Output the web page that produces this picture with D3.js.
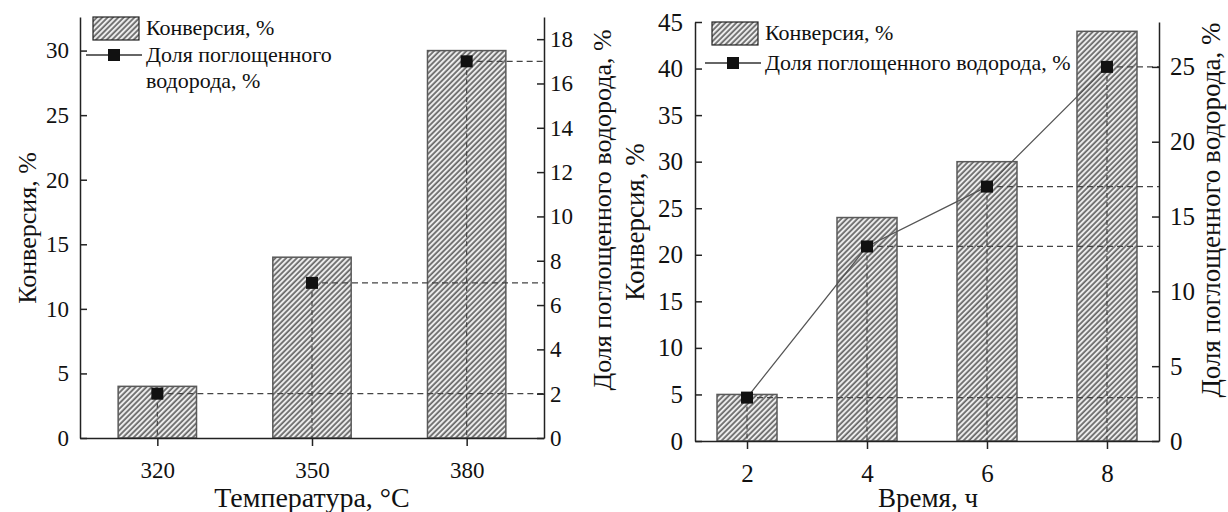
<!DOCTYPE html>
<html>
<head>
<meta charset="utf-8">
<script src="https://cdn.jsdelivr.net/npm/d3@7"></script>
<style>
  body { margin: 0; background: #fff; }
  svg text { font-family: "Liberation Serif", "Tinos", "Times New Roman", "DejaVu Serif", serif !important; }
</style>
</head>
<body>
<svg id="chart" width="1228" height="512"></svg>
<script>
// left panel: temperature
const tempLabels = [320, 350, 380];
const tempConversion = [4, 14, 30];
const tempHydrogen = [2, 7, 17];
const tempConvTicks = [0, 5, 10, 15, 20, 25, 30];
const tempHydTicks = [0, 2, 4, 6, 8, 10, 12, 14, 16, 18];

// right panel: time
const timeLabels = [2, 4, 6, 8];
const timeConversion = [5, 24, 30, 44];
const timeHydrogen = [2.9, 13, 17, 25];
const timeConvTicks = [0, 5, 10, 15, 20, 25, 30, 35, 40, 45];
const timeHydTicks = [0, 5, 10, 15, 20, 25];

const convTitle = "Конверсия, %";
const hydTitle = "Доля поглощенного водорода, %";

let svg = d3.select("#chart");

// hatch pattern for the bars
let defs = svg.append("defs");
let hatch = defs.append("pattern")
  .attr("id", "hatch")
  .attr("patternUnits", "userSpaceOnUse")
  .attr("width", 3.8)
  .attr("height", 3.8)
  .attr("patternTransform", "rotate(45)");
hatch.append("rect")
  .attr("width", 3.8)
  .attr("height", 3.8)
  .attr("fill", "#ececec");
hatch.append("line")
  .attr("x1", 1).attr("y1", 0)
  .attr("x2", 1).attr("y2", 3.8)
  .attr("stroke", "#2e2e2e")
  .attr("stroke-width", 1.2);

drawPanel(svg, {
  labels: tempLabels, conv: tempConversion, hyd: tempHydrogen,
  convTicks: tempConvTicks, hydTicks: tempHydTicks,
  xDomain: [305, 395], xRange: [80, 544], halfWidth: 7.6,
  convMax: 32.6, hydMax: 19, yRange: [438, 17],
  tickFont: 23, titleFont: 26, xTitleFont: 28, legendFont: 22,
  connect: false,
  xTitle: "Температура, °C", xTitleX: 312,
  leftTitleX: 36, leftTitleY: 228, rightTitleX: 611, rightTitleY: 210,
  tickPadL: 11, tickPadR: 6, tickPadX: 16,
  legendX: 93, legendY: 17, legendLines: ["Доля поглощенного", "водорода, %"], legendStep: 27
});

drawPanel(svg, {
  labels: timeLabels, conv: timeConversion, hyd: timeHydrogen,
  convTicks: timeConvTicks, hydTicks: timeHydTicks,
  xDomain: [1.133, 8.867], xRange: [695, 1159], halfWidth: 0.5,
  convMax: 45, hydMax: 28, yRange: [441, 22],
  tickFont: 25, titleFont: 27, xTitleFont: 27, legendFont: 22,
  connect: true,
  xTitle: "Время, ч", xTitleX: 928,
  leftTitleX: 644, leftTitleY: 222, rightTitleX: 1220, rightTitleY: 210,
  tickPadL: 12, tickPadR: 11, tickPadX: 15,
  legendX: 712, legendY: 22, legendLines: [hydTitle], legendStep: 30
});

function drawPanel(svg, p) {
  let g = svg.append("g");

  let x = d3.scaleLinear().domain(p.xDomain).range(p.xRange);
  let yConv = d3.scaleLinear().domain([0, p.convMax]).range(p.yRange);
  let yHyd = d3.scaleLinear().domain([0, p.hydMax]).range(p.yRange);

  // bars
  g.selectAll(".bar")
    .data(p.labels)
    .enter()
    .append("rect")
    .attr("x", (d) => x(d - p.halfWidth))
    .attr("width", (d) => x(d + p.halfWidth) - x(d - p.halfWidth))
    .attr("y", (d, i) => yConv(p.conv[i]))
    .attr("height", (d, i) => yConv(0) - yConv(p.conv[i]))
    .style("fill", "url(#hatch)")
    .style("stroke", "#5a5a5a")
    .style("stroke-width", 1.5);

  // dashed guides: down to x axis and across to right axis
  for (let i = 0; i < p.labels.length; i++) {
    let cx = x(p.labels[i]);
    let cy = yHyd(p.hyd[i]);
    g.append("line")
      .attr("x1", cx).attr("y1", cy)
      .attr("x2", cx).attr("y2", yHyd(0))
      .style("stroke", "#444")
      .style("stroke-width", 1.2)
      .style("stroke-dasharray", "5,4");
    g.append("line")
      .attr("x1", cx).attr("y1", cy)
      .attr("x2", p.xRange[1]).attr("y2", cy)
      .style("stroke", "#444")
      .style("stroke-width", 1.3)
      .style("stroke-dasharray", "6,4");
  }

  // connecting line (time panel only)
  if (p.connect) {
    let line = d3.line()
      .x((d) => x(d))
      .y((d, i) => yHyd(p.hyd[i]));
    g.append("path")
      .attr("d", line(p.labels))
      .style("fill", "none")
      .style("stroke", "#555")
      .style("stroke-width", 1.3);
  }

  // square markers
  g.selectAll(".pt")
    .data(p.labels)
    .enter()
    .append("rect")
    .attr("x", (d) => x(d) - 6)
    .attr("y", (d, i) => yHyd(p.hyd[i]) - 6)
    .attr("width", 12)
    .attr("height", 12)
    .style("fill", "#111");

  // axes
  let leftAxis = g.append("g")
    .attr("transform", "translate(" + p.xRange[0] + ",0)")
    .call(d3.axisLeft(yConv).tickValues(p.convTicks).tickSizeInner(-7).tickSizeOuter(0).tickPadding(p.tickPadL));
  let rightAxis = g.append("g")
    .attr("transform", "translate(" + p.xRange[1] + ",0)")
    .call(d3.axisRight(yHyd).tickValues(p.hydTicks).tickSizeInner(-7).tickSizeOuter(0).tickPadding(p.tickPadR));
  let bottomAxis = g.append("g")
    .attr("transform", "translate(0," + p.yRange[0] + ")")
    .call(d3.axisBottom(x).tickValues(p.labels).tickSizeInner(8).tickSizeOuter(0).tickPadding(p.tickPadX));

  for (let a of [leftAxis, rightAxis, bottomAxis]) {
    a.attr("font-family", null);
    a.selectAll("path, line").style("stroke", "#222").style("stroke-width", 1.5);
    a.selectAll("text")
      .style("font-size", p.tickFont + "px")
      .style("fill", "#111");
  }

  // axis titles
  g.append("text")
    .attr("x", p.xTitleX)
    .attr("y", 507)
    .text(p.xTitle)
    .style("text-anchor", "middle")
    .style("font-size", p.xTitleFont + "px")
    .style("fill", "#111");
  g.append("text")
    .attr("transform", "translate(" + p.leftTitleX + "," + p.leftTitleY + ")rotate(-90)")
    .text(convTitle)
    .style("text-anchor", "middle")
    .style("font-size", p.titleFont + "px")
    .style("fill", "#111");
  g.append("text")
    .attr("transform", "translate(" + p.rightTitleX + "," + p.rightTitleY + ")rotate(-90)")
    .text(hydTitle)
    .style("text-anchor", "middle")
    .style("font-size", p.titleFont + "px")
    .style("fill", "#111");

  // legend
  let lx = p.legendX;
  let ly = p.legendY;
  g.append("rect")
    .attr("x", lx).attr("y", ly)
    .attr("width", 46).attr("height", 23)
    .style("fill", "url(#hatch)")
    .style("stroke", "#222")
    .style("stroke-width", 1.2);
  g.append("text")
    .attr("x", lx + 53)
    .attr("y", ly + 18)
    .text(convTitle)
    .style("font-size", p.legendFont + "px")
    .style("fill", "#111");

  let rowY = ly + 18 + p.legendStep;
  g.append("line")
    .attr("x1", lx - 7).attr("y1", rowY - 7)
    .attr("x2", lx + 49).attr("y2", rowY - 7)
    .style("stroke", "#333")
    .style("stroke-width", 1.3);
  g.append("rect")
    .attr("x", lx + 21 - 6).attr("y", rowY - 13)
    .attr("width", 12).attr("height", 12)
    .style("fill", "#111");
  p.legendLines.forEach((t, i) => {
    g.append("text")
      .attr("x", lx + 53)
      .attr("y", rowY + i * 26)
      .text(t)
      .style("font-size", p.legendFont + "px")
      .style("fill", "#111");
  });
}
</script>
</body>
</html>
